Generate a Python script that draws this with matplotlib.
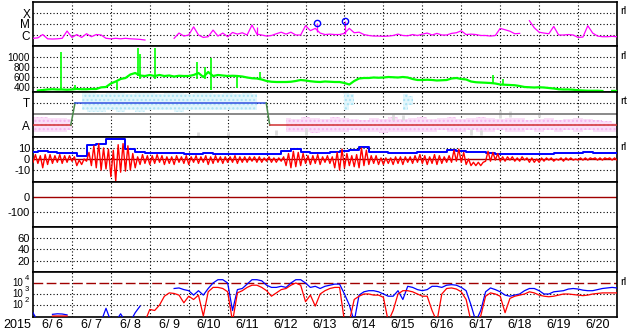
import numpy as np
import matplotlib
matplotlib.use('Agg')
import matplotlib.pyplot as plt

plt.rcParams['font.family'] = ['Liberation Sans', 'DejaVu Sans']
plt.rcParams['lines.scale_dashes'] = False
plt.rcParams['hatch.linewidth'] = 1.0

nan = np.nan
# ---------------- data (time in days since 2015-06-06 00:00 UT) ----------------
t3h = np.arange(121) * 0.125
t6h = np.arange(61) * 0.25

date_labels = ['6/ 6', '6/ 7', '6/ 8', '6/ 9', '6/10', '6/11', '6/12', '6/13',
               '6/14', '6/15', '6/16', '6/17', '6/18', '6/19', '6/20']
year_label = '2015'

# GOES X-ray flux, units of 1e-6 W/m^2
xray = [0.5, 0.55, 1.1, 0.45, 0.43, 0.45, 0.5, 2.3, 0.6, 1.1,
        0.6, 1.3, 0.7, 1.1, 1.0, 0.5, 0.45, 0.5, 0.45, 0.5,
        0.45, 0.43, 0.4, 0.35, nan, nan, nan, nan, nan, 0.5,
        1.5, 0.8, 1.0, 5.5, 1.0, 0.6, 0.7, 2.8, 0.8, 1.5,
        0.7, 1.7, 1.2, 1.6, 1.0, 8.0, 1.2, 1.0, 0.8, 0.9,
        1.3, 1.8, 1.2, 1.8, 1.0, 1.0, 7.0, 2.5, 4.0, 1.5,
        1.1, 1.2, 1.1, 1.1, 1.4, 4.0, 1.6, 1.8, 1.1, 0.9,
        0.8, 0.8, 0.75, 0.8, 0.9, 1.2, 0.9, 0.85, 1.1, 0.9,
        1.2, 1.5, 1.0, 1.4, 1.0, 1.0, 1.4, 1.6, 2.4, 1.1,
        1.2, 1.1, 0.9, 0.9, 0.8, 0.9, 4.0, 3.0, 2.2, 1.3,
        1.4, nan, 20, 4.5, 1.8, 1.5, 1.3, 6.0, 1.0, 1.0,
        1.1, 1.0, 0.6, 0.65, 7.0, 1.5, 0.8, 0.7, 0.7, 0.75,
        0.7]
xray_spike_t = [5.75, 7.30, 8.01]
xray_spike_lo = [1.0, 2.0, 1.2]
xray_spike_hi = [5.5, 11.5, 20.0]
flare_t = [7.30, 8.01]
flare_v = [11.5, 20.0]

# solar wind speed, km/s
wind = [nan, 330, 340, 350, 355, 350, 350, 345, 350, 360,
        355, 355, 360, 360, 393, 400, 470, 510, 560, 580,
        650, 680, 630, 620, 640, 620, 640, 620, 630, 610,
        625, 620, 620, 640, 680, 600, 700, 620, 640, 630,
        620, 625, 620, 610, 590, 575, 570, 550, 520, 505,
        500, 500, 500, 505, 520, 540, 530, 515, 505, 500,
        510, 505, 500, 500, 480, 450, 520, 570, 580, 580,
        590, 585, 590, 600, 595, 590, 600, 590, 560, 540,
        540, 545, 540, 530, 535, 540, 570, 580, 560, 550,
        510, 495, 490, 485, 480, 470, 450, 445, 440, 435,
        420, 400, 395, 390, 395, 390, 380, 370, 355, 350,
        350, 345, 335, 330, 325, 325, 325, 320, nan, 322,
        320]
wind_spike_t = [0.72, 1.08, 2.16, 2.70, 2.75, 3.13, 4.21, 4.42, 4.57, 5.24, 5.83, 11.82, 12.06]
wind_spike_lo = [350, 350, 340, 620, 560, 560, 560, 560, 340, 380, 540, 480, 450]
wind_spike_hi = [1095, 440, 500, 1180, 1060, 1180, 900, 800, 975, 620, 707, 640, 560]

# T / A state panel (fractional panel units)
state_t = [0.0, 0.97, 1.08, 5.99, 6.08, 15.0]
state_lvl = ['A', 'A', 'T', 'T', 'A', 'A']
blue_lo = [0.6, nan, nan, nan, nan, 0.6, 0.55, 0.55, 0.6, 0.55,
           0.6, 0.55, 0.6, 0.6, 0.6, 0.55, 0.6, 0.6, 0.6, 0.6,
           0.6, 0.6, 0.6, 0.6, nan, nan, 0.6, nan, nan, nan,
           nan, nan, 0.6, 0.7, nan, nan, nan, nan, 0.6, 0.7,
           nan, nan, nan, nan, nan, nan, 0.85, nan, 0.55, nan,
           nan, nan, nan, nan, nan, nan, nan, nan, nan, nan, nan]
blue_hi = [0.72, nan, nan, nan, nan, 0.97, 0.97, 0.95, 0.97, 0.97,
           0.95, 0.97, 0.97, 0.95, 0.97, 0.97, 0.95, 0.97, 0.97, 0.95,
           0.97, 0.95, 0.97, 0.95, nan, nan, 0.9, nan, nan, nan,
           nan, nan, 0.97, 0.95, nan, nan, nan, nan, 0.95, 0.9,
           nan, nan, nan, nan, nan, nan, 0.97, nan, 0.65, nan,
           nan, nan, nan, nan, nan, nan, nan, nan, nan, nan, nan]
pink_lo = [0.1, 0.1, 0.12, 0.1, 0.15, nan, 0.15, nan, nan, nan,
           nan, nan, nan, nan, nan, nan, 0.2, nan, nan, nan,
           nan, 0.3, nan, nan, nan, nan, 0.12, 0.1, 0.12, 0.08,
           0.1, 0.12, 0.1, 0.15, 0.1, 0.12, 0.08, 0.12, 0.1, 0.12,
           0.1, 0.12, 0.15, 0.1, 0.12, 0.15, 0.1, 0.12, 0.15, 0.1,
           0.12, 0.15, 0.12, 0.15, 0.12, 0.15, 0.1, 0.15, 0.12, 0.1, 0.1]
pink_hi = [0.45, 0.45, 0.42, 0.42, 0.4, nan, 0.4, nan, nan, nan,
           nan, nan, nan, nan, nan, nan, 0.35, nan, nan, nan,
           nan, 0.45, nan, nan, nan, nan, 0.42, 0.4, 0.45, 0.42,
           0.4, 0.44, 0.42, 0.4, 0.38, 0.42, 0.4, 0.43, 0.4, 0.42,
           0.44, 0.4, 0.42, 0.45, 0.4, 0.42, 0.45, 0.42, 0.4, 0.42,
           0.42, 0.38, 0.4, 0.42, 0.38, 0.4, 0.42, 0.4, 0.38, 0.35, 0.3]
gray_j = [17, 20, 25, 28, 37, 38, 45, 46, 48, 49, 52]
gray_lo = [0.03, 0.03, 0.05, 0.05, 0.38, 0.38, 0.05, 0.05, 0.42, 0.45, 0.45]
gray_hi = [0.12, 0.10, 0.15, 0.20, 0.50, 0.48, 0.18, 0.15, 0.60, 0.58, 0.55]

# IMF Bt (6-hourly) and Bz envelope (3-hourly), nT
bt = [6.5, 7.5, 6, 5.8, 5.5, 3, 12.7, 14, 18, 18.5,
      9, 6.5, 5.5, 5.2, 5.3, 5.2, 5, 5, 5.2, 5,
      4.8, 4.5, 4.3, 4.3, 4.3, 4.3, 7, 8.8, 6, 5.8,
      5.6, 6.5, 7.5, 8, 10.5, 6.7, 6.5, 5.5, 5.2, 5.5,
      6.7, 6.5, 6.5, 8.2, 7.5, 6, 6, 5.8, 4.5, 4.2,
      4.2, 4.3, 4.2, 5, 5.2, 5.2, 5.5, 6, 5.5, 5.2,
      5.5]
bz_lo = [-3, -4, -8, -5, -4, -3, -4, -3, -2, -6,
         -5, -2, -6, -8, -10, -9, -16, -20, -12, -11,
         -10, -8, -5, -4, -5, -4, -3, -5, -4, -5,
         -3, -4, -5, -3, -4, -3, -5, -4, -3, -4,
         -3, -3, -4, -3, -3, -2, -3, -3, -2, -3,
         -3, -2, -6, -8, -7, -6, -4, -5, -4, -5,
         -3, -4, -8, -10, -8, -6, -7, -8, -6, -5,
         -4, -5, -5, -4, -5, -4, -5, -3, -4, -3,
         -4, -5, -4, -5, -4, -3, -3, -2, -3, -5,
         -6, -6, -6, -2, -2, -1, -2, -2, -1, -2,
         -2, -1, -3, -3, -3, -2, -1, -2, -1, -2,
         -1, -1, -1, -1, -1, 0, -1, -1, 0, -1,
         -1]
bz_hi = [4, 3, 4, 4, 3, 4, 3, 3, 2, -1,
         0, 6, 12, 14, 10, 9, 8, 13, 14, 12,
         5, 2, 4, 3, 3, 4, 3, 2, 2, 3,
         2, 3, 2, 3, 2, 3, 2, 3, 2, 2,
         2, 3, 2, 2, 2, 2, 2, 1, 2, 1,
         1, 2, 5, 7, 6, 5, 3, 3, 4, 2,
         3, 2, 6, 9, 5, 3, 4, 10, 8, 3,
         3, 1, 1, 1, 2, 2, 2, 2, 3, 4,
         3, 2, 4, 3, 2, 3, 8, 9, 6, 0,
         -3, -3, -3, 7, 6, 5, 2, 2, 2, 1,
         2, 1, 1, 0, 1, 1, 1, 0, 1, 1,
         1, 0, 1, 1, 1, 1, 1, 1, 1, 1,
         1]

# electron flux, log10
flux_blue = [1.3, 0.5, nan, nan, 1.15, 1.2, 1.18, 1.1, nan, nan,
             nan, nan, nan, nan, 0.5, 1.7, 0.5, 0.5, 1.2, 0.5,
             0.5, 1.3, 1.9, nan, nan, nan, nan, nan, nan, 3.5,
             3.55, 3.4, 3.3, 2.9, 3.3, 2.9, 3.5, 4.0, 4.3, 4.3,
             4.0, 1.5, 3.4, 3.5, 3.9, 4.3, 4.3, 4.2, 3.8, 3.6,
             3.6, 3.7, 3.6, 4.0, 4.3, 4.3, 4.0, 3.6, 3.7, 3.5,
             3.7, 3.8, 3.9, 3.9, 3.0, 2.0, 0.5, 2.9, 3.2, 3.3,
             3.3, 3.2, 3.0, 2.8, 2.8, 3.3, 2.5, 3.7, 3.6, 3.4,
             3.3, 3.4, 3.7, 3.7, 3.6, 3.8, 3.85, 3.8, 3.6, 3.3,
             2.0, 0.5, 1.5, 3.2, 3.55, 3.4, 3.2, 2.9, 2.8, 2.9,
             3.0, 3.3, 3.5, 3.5, 3.3, 3.0, 3.0, 3.2, 3.25, 3.3,
             3.45, 3.5, 3.45, 3.35, 3.3, 3.3, 3.4, 3.5, 3.55, 3.6,
             3.55]
flux_red = [nan, nan, nan, nan, 1.0, 1.0, 1.0, 1.0, nan, nan,
            nan, nan, nan, nan, nan, nan, nan, nan, nan, nan,
            nan, nan, nan, 0.5, 1.6, 1.5, 2.0, 2.8, 3.1, 3.05,
            2.9, 2.2, 2.8, 2.5, 2.9, 1.0, 3.2, 3.6, 3.6, 3.5,
            3.2, 0.5, 3.1, 3.3, 3.6, 3.8, 3.8, 3.6, 3.3, 2.8,
            3.1, 3.4, 3.5, 3.8, 4.0, 3.8, 2.3, 2.9, 1.9, 3.0,
            3.3, 3.5, 3.6, 3.6, 0.5, 0.5, 2.5, 2.8, 3.0, 3.0,
            2.9, 2.9, 2.7, 0.5, 1.5, 3.0, 3.3, 3.3, 3.2, 3.0,
            2.8, 2.8, 1.5, 0.5, 3.0, 3.5, 3.55, 3.45, 3.2, 2.5,
            0.5, 0.5, 1.0, 2.8, 3.1, 3.0, 2.8, 1.3, 2.6, 2.8,
            2.9, 3.0, 3.2, 3.1, 2.9, 2.8, 2.75, 2.8, 2.9, 3.0,
            3.0, 2.95, 2.9, 2.85, 2.9, 3.0, 3.05, 3.1, 3.1, 3.1,
            3.1]
flux_ticks = [4, 3, 2]

# ---------------- figure ----------------
W, H = 633, 334
fig = plt.figure(figsize=(W / 100, H / 100), dpi=100)
fig.patch.set_facecolor('white')
L, R = 33, 617
bounds = [(2, 46), (46, 91.5), (91.5, 137), (137, 182), (182, 227), (227, 272), (272, 317)]
label_size = [8.5, 7.2, 8.5, 8, 8, 8, 7]
axes = []
for (top, bot), fs in zip(bounds, label_size):
    ax = fig.add_axes([L / W, (H - bot) / H, (R - L) / W, (bot - top) / H])
    ax.set_xlim(0, 15)
    ax.set_xticks([])
    for s in ax.spines.values():
        s.set_linewidth(1.2)
        s.set_color('black')
    ax.tick_params(axis='y', length=0, pad=2, labelsize=fs)
    for d in range(1, 15):
        ax.axvline(d, color='black', lw=0.8, ls=(0, (0.8, 1.6)), zorder=1)
    axes.append(ax)

DOT = dict(color='black', lw=0.8, ls=(0, (0.8, 1.6)), zorder=1)
DARKRED = '#a00000'

# Panel 1: X-ray
ax = axes[0]
ax.set_yscale('log')
ax.set_ylim(1e-7, 1e-3)
ax.minorticks_off()
for v in [1e-4, 1e-5, 1e-6]:
    ax.axhline(v, **DOT)
ax.set_yticks([1e-4, 1e-5, 1e-6])
ax.set_yticklabels(['X', 'M', 'C'])
xr = np.array(xray) * 1e-6
ax.plot(t3h, xr, color='#ff00ff', lw=0.9, zorder=3)
ax.vlines(xray_spike_t, np.array(xray_spike_lo) * 1e-6, np.array(xray_spike_hi) * 1e-6,
          color='#ff00ff', lw=0.9, zorder=3)
ax.plot(flare_t, np.array(flare_v) * 1e-6, 'o', mfc='none', mec='#0000ff', ms=4.5, mew=1, zorder=4)

# Panel 2: solar wind speed
ax = axes[1]
ax.set_ylim(310, 1220)
for v in [1000, 800, 600, 400]:
    ax.axhline(v, **DOT)
ax.set_yticks([1000, 800, 600, 400])
ax.set_yticklabels(['1000', '800', '600', '400'])
ax.plot(t3h, wind, color='#00ff00', lw=1.6, zorder=3)
ax.vlines(wind_spike_t, wind_spike_lo, wind_spike_hi, color='#00ff00', lw=1.2, zorder=3)

# Panel 3: T / A
ax = axes[2]
ax.set_ylim(0, 1)
T_LVL, A_LVL = 0.75, 0.26
lvl = {'T': T_LVL, 'A': A_LVL}
ax.fill_between(t6h, np.array(pink_lo), np.array(pink_hi), step='mid', facecolor='#fbe0f8',
                edgecolor='#f4b4ee', hatch='....', lw=0, zorder=1.5)
ax.fill_between(t6h, np.array(blue_lo), np.array(blue_hi), step='mid', facecolor='#e2f6fc',
                edgecolor='#a8e2f4', hatch='....', lw=0, zorder=1.5)
gt = np.array(gray_j) * 0.25
ax.vlines(gt, gray_lo, gray_hi, color='#dcdcdc', lw=2, zorder=1.6)
ax.axhline(T_LVL, **DOT)
ax.axhline(0.5, color='#808080', lw=1.3, zorder=2)
for k in range(len(state_t) - 1):
    a, b = state_lvl[k], state_lvl[k + 1]
    if a != b:
        col = '#4a8a4a'
    elif a == 'T':
        col = '#3050e0'
    else:
        col = '#d03030'
    ax.plot(state_t[k:k + 2], [lvl[a], lvl[b]], color=col, lw=1.1, zorder=3)
ax.set_yticks([T_LVL, A_LVL])
ax.set_yticklabels(['T', 'A'])

# Panel 4: IMF
ax = axes[3]
ax.set_ylim(-20.9, 20)
for v in [10, -10]:
    ax.axhline(v, **DOT)
ax.axhline(0, color=DARKRED, lw=1.0, zorder=2)
ax.set_yticks([10, 0, -10])
ax.set_yticklabels(['10', '0', '-10'])
ax.plot(t6h, bt, color='#0000ff', lw=1.4, drawstyle='steps-mid', zorder=3)
tz = np.ravel(np.column_stack([t3h, t3h + 0.0625]))
vz = np.ravel(np.column_stack([bz_lo, bz_hi]))
ax.plot(tz, vz, color='#ff0000', lw=1.0, zorder=4)

# Panel 5: Dst
ax = axes[4]
ax.set_ylim(-200, 100)
ax.axhline(0, color=DARKRED, lw=1.0, zorder=2)
ax.axhline(-100, **DOT)
ax.set_yticks([0, -100])
ax.set_yticklabels(['0', '-100'])

# Panel 6
ax = axes[5]
ax.set_ylim(0, 79)
for v in [60, 40, 20]:
    ax.axhline(v, **DOT)
ax.set_yticks([60, 40, 20])
ax.set_yticklabels(['60', '40', '20'])

# Panel 7: electron flux
ax = axes[6]
ax.set_ylim(0.909, 5)
for v in [3, 2]:
    ax.axhline(v, **DOT)
ax.axhline(4, color=DARKRED, lw=1.0, ls=(0, (7, 2.5)), zorder=2)
ax.set_yticks([])
for v in flux_ticks:
    ax.annotate('10', xy=(0, v), xycoords=('axes fraction', 'data'), xytext=(-9.5, 0),
                textcoords='offset pixels', ha='right', va='center', fontsize=7)
    ax.annotate(str(v), xy=(0, v), xycoords=('axes fraction', 'data'), xytext=(-8.5, 4),
                textcoords='offset pixels', ha='left', va='center', fontsize=5.5)
ax.plot(t3h, flux_blue, color='#0000ff', lw=0.9, zorder=3)
ax.plot(t3h, flux_red, color='#ff0000', lw=0.9, zorder=4)

# bottom date labels
px_per_day = (R - L) / 15
for d, lab in enumerate(date_labels):
    fig.text((L + px_per_day * (d + 0.5)) / W, 1 - 325 / H, lab, ha='center', va='center', fontsize=9)
fig.text(17 / W, 1 - 325 / H, year_label, ha='center', va='center', fontsize=9)

# right-hand markers
for y, s in [(11, 'rl'), (56, 'rl'), (101, 'rt'), (147, 'rl'), (282, 'rl')]:
    fig.text(620 / W, 1 - y / H, s, ha='left', va='center', fontsize=8)

fig.savefig('out.png', dpi=100, facecolor='white')
